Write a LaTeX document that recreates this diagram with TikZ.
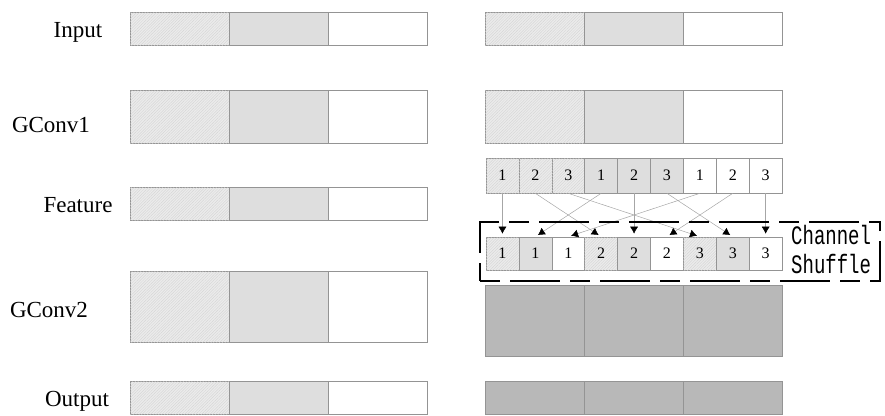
\documentclass[tikz,border=0pt]{standalone}
\usepackage{fontspec}
\usepackage{graphicx}
\setmainfont{Liberation Serif}
\setmonofont{Liberation Mono}
\usetikzlibrary{arrows.meta,patterns.meta}
\tikzset{
  hatched/.style={fill=black!8,postaction={pattern={Lines[angle=45,distance=2pt,line width=.3pt]},pattern color=black!18}},
  light/.style={fill=black!13},
  blank/.style={fill=white},
  dark/.style={fill=black!28},
  seg/.style={draw=black!42,line width=.8pt},
  cell/.style={draw=black!42,line width=.6pt,minimum width=32.9pt,inner sep=0pt,font=\fontsize{16}{16}\selectfont},
  shuf/.style={draw=black!35,line width=.5pt,-{Latex[length=7pt,width=8pt,color=black]},shorten >=3pt},
  lab/.style={anchor=base,font=\fontsize{23}{23}\selectfont}
}
\begin{document}
\begin{tikzpicture}[x=1pt,y=-1pt]
	\useasboundingbox (0,0) rectangle (885,415);
	\foreach \y/\h in {12/33,90/53,187/33,271/71,381/33}{
		\draw[seg,hatched] (130,\y) rectangle +(99,\h);
		\draw[seg,light] (229,\y) rectangle +(99,\h);
		\draw[seg] (328,\y) rectangle +(99,\h);
	}
	\foreach \y/\h in {12/33,90/53}{
		\draw[seg,hatched] (485,\y) rectangle +(99,\h);
		\draw[seg,light] (584,\y) rectangle +(99,\h);
		\draw[seg] (683,\y) rectangle +(99,\h);
	}
	\foreach \y/\h in {285/71,381/33}
		\foreach \x in {485,584,683} \draw[seg,dark] (\x,\y) rectangle +(99,\h);
	\node[lab] (in) at (78,37) {Input};
	\node[lab] (g1) at (51,132) {GConv1};
	\node[lab] (ft) at (78,212) {Feature};
	\node[lab] (g2) at (49,317) {GConv2};
	\node[lab] (out) at (77,406) {Output};
	\foreach \i/\n/\f in {0/1/hatched,1/2/hatched,2/3/hatched,3/1/light,4/2/light,5/3/light,6/1/blank,7/2/blank,8/3/blank}
		\node[cell,\f,minimum height=35pt] (t\i) at ({486+32.9*(\i+.5)},175.5) {\n};
	\foreach \i/\n/\f in {0/1/hatched,1/1/light,2/1/blank,3/2/hatched,4/2/light,5/2/blank,6/3/hatched,7/3/light,8/3/blank}
		\node[cell,\f,minimum height=33pt] (s\i) at ({486+32.9*(\i+.5)},253.5) {\n};
	\foreach \a/\b in {0/0,1/3,2/6,3/1,4/4,5/7,6/2,7/5,8/8}
		\draw[shuf] (t\a.south) -- (s\b.north);
	\draw[line width=2.5pt,dash pattern=on 20pt off 10pt on 50pt off 10pt] (480,281) -- (880,281) -- (880,222) -- (480,222) -- cycle;
	\node[anchor=west,inner sep=0pt,font=\ttfamily\fontsize{19}{21.4}\selectfont] (cs) at (791,253)
		{\scalebox{1}[1.4]{\begin{tabular}{@{}l@{}}Channel\\Shuffle\end{tabular}}};
\end{tikzpicture}
\end{document}
